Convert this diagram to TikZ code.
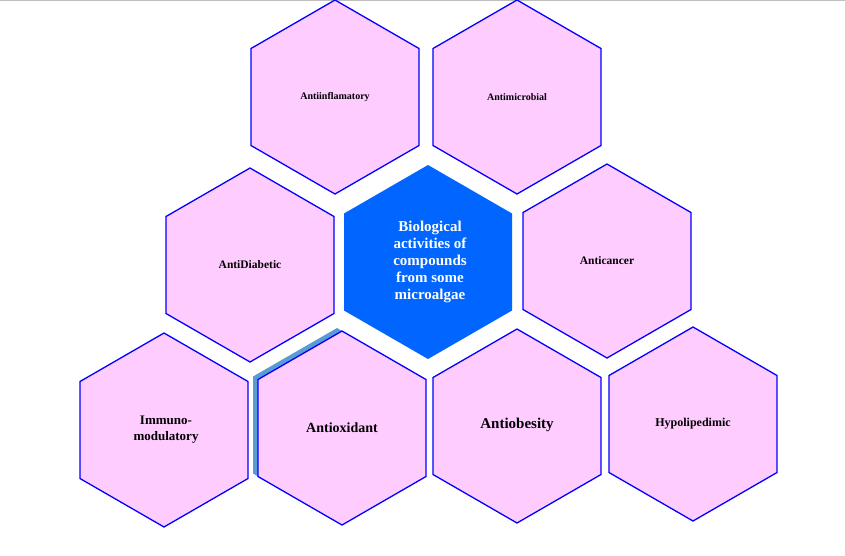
\documentclass[tikz,border=0pt]{standalone}
\usepackage{fontspec}
\setmainfont{Liberation Serif}
\definecolor{hexpink}{RGB}{255,204,255}
\definecolor{shadowblue}{RGB}{91,155,213}
\definecolor{centerblue}{RGB}{0,102,255}
\begin{document}
\begin{tikzpicture}[x=1pt,y=-1pt,
  hexb/.style={draw=blue,line width=1.3pt,fill=hexpink},
  lab/.style={font=\bfseries,align=center,text=black}]
\useasboundingbox (0,0) rectangle (845,555);
\draw[gray!50] (0,0.5)--(845,0.5);
\newcommand\hexpath[2]{(#1,#2-97)--(#1+84,#2-48.5)--(#1+84,#2+48.5)--(#1,#2+97)--(#1-84,#2+48.5)--(#1-84,#2-48.5)--cycle}
\fill[shadowblue] \hexpath{337}{425};
\draw[hexb] \hexpath{335}{97};
\draw[hexb] \hexpath{517}{97};
\draw[hexb] \hexpath{250}{265};
\fill[centerblue] \hexpath{428}{262};
\draw[hexb] \hexpath{607}{261};
\draw[hexb] \hexpath{164}{430};
\draw[hexb] \hexpath{342}{428};
\draw[hexb] \hexpath{517}{426};
\draw[hexb] \hexpath{693}{424};
\node[lab,font=\bfseries\fontsize{10}{12}\selectfont] (a) at (335,97) {Antiinflamatory};
\node[lab,font=\bfseries\fontsize{10}{12}\selectfont] (b) at (517,97) {Antimicrobial};
\node[lab,font=\bfseries\fontsize{11.5}{14}\selectfont] (c) at (250,265) {AntiDiabetic};
\node[lab,text=white,font=\bfseries\fontsize{15}{17}\selectfont] (d) at (430,262) {Biological\\activities of\\compounds\\from some\\microalgae};
\node[lab,font=\bfseries\fontsize{11.5}{14}\selectfont] (e) at (607,261) {Anticancer};
\node[lab,font=\bfseries\fontsize{13}{16}\selectfont] (f) at (166,430) {Immuno-\\modulatory};
\node[lab,font=\bfseries\fontsize{14}{16}\selectfont] (g) at (342,428) {Antioxidant};
\node[lab,font=\bfseries\fontsize{15}{17}\selectfont] (h) at (517,425) {Antiobesity};
\node[lab,font=\bfseries\fontsize{12}{14}\selectfont] (i) at (693,424) {Hypolipedimic};
\end{tikzpicture}
\end{document}
